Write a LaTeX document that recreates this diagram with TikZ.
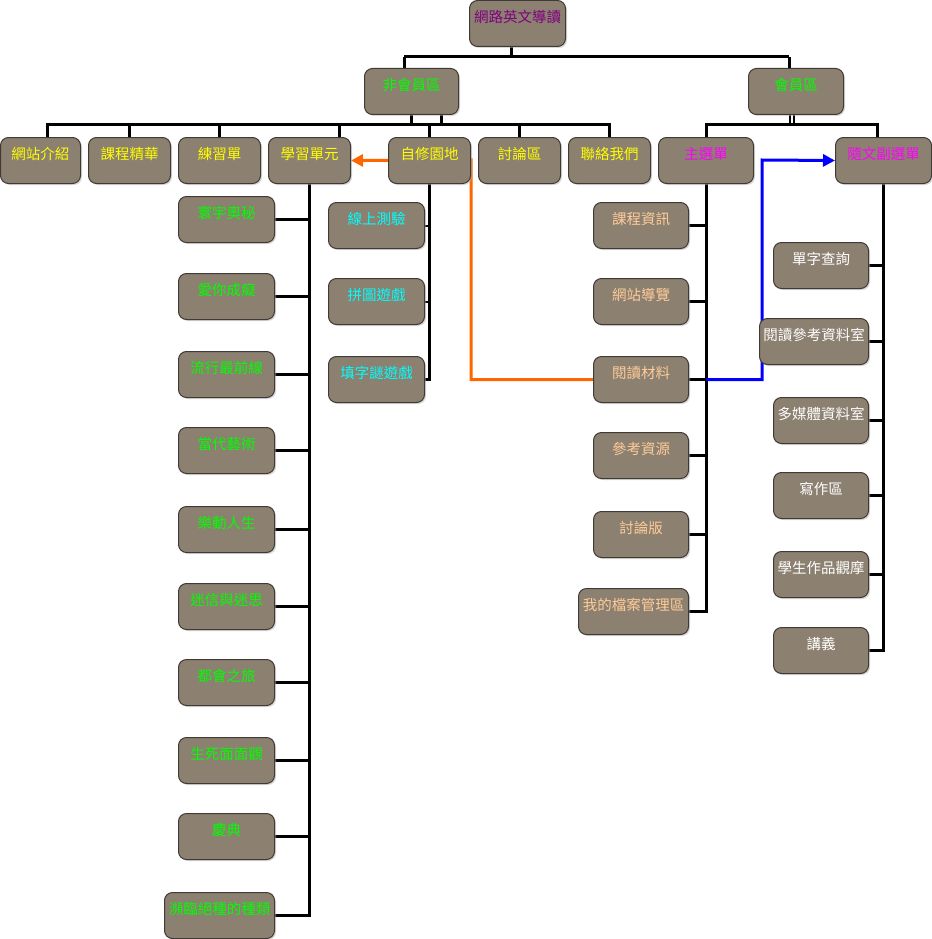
\documentclass[tikz,border=0pt]{standalone}
\usepackage{fontspec}
\setmainfont{Noto Sans CJK TC}
\usetikzlibrary{arrows.meta,backgrounds,shadows}
\definecolor{boxfill}{RGB}{140,128,112}
\definecolor{boxline}{RGB}{64,58,52}
\definecolor{tyellow}{RGB}{255,255,0}
\definecolor{tgreen}{RGB}{0,255,0}
\definecolor{tcyan}{RGB}{0,255,255}
\definecolor{tmagenta}{RGB}{255,0,255}
\definecolor{tpurple}{RGB}{128,0,128}
\definecolor{tpeach}{RGB}{255,204,153}
\definecolor{lorange}{RGB}{255,102,0}
\definecolor{lblue}{RGB}{0,0,255}
\tikzset{
  box/.style={draw=boxline, line width=1pt, fill=boxfill, rounded corners=8pt,
    anchor=north west, inner xsep=0pt, inner ysep=0pt, minimum width=95pt,
    text height=22pt, text depth=24pt, font=\fontsize{14.5pt}{17pt}\selectfont,
    drop shadow={shadow xshift=1.5pt, shadow yshift=-1.5pt, fill=black!30, opacity=0.5}},
  conn/.style={draw=black, line width=3pt},
  thinconn/.style={draw=black, line width=2pt},
  oarrow/.style={draw=lorange, line width=3pt, -{Triangle[length=12pt,width=12pt]}},
  barrow/.style={draw=lblue, line width=3pt, -{Triangle[length=12pt,width=12pt]}}
}
\begin{document}
\begin{tikzpicture}[x=1pt,y=-1pt]
\useasboundingbox (0,0) rectangle (931,939);
% top
\node[box, minimum width=96pt, text=tpurple] (root) at (469,0) {網路英文導讀};
\node[box, minimum width=94pt, text=tgreen] (nonmem) at (364,68) {非會員區};
\node[box, minimum width=95pt, text=tgreen] (mem) at (748,68) {會員區};
% second row
\node[box, minimum width=80pt, text=tyellow] (n1) at (0,137) {網站介紹};
\node[box, minimum width=82pt, text=tyellow] (n2) at (88,137) {課程精華};
\node[box, minimum width=82pt, text=tyellow] (n3) at (178,137) {練習單};
\node[box, minimum width=82pt, text=tyellow] (n4) at (268,137) {學習單元};
\node[box, minimum width=82pt, text=tyellow] (n5) at (388,137) {自修園地};
\node[box, minimum width=82pt, text=tyellow] (n6) at (478,137) {討論區};
\node[box, minimum width=82pt, text=tyellow] (n7) at (568,137) {聯絡我們};
\node[box, minimum width=95pt, text=tmagenta] (m1) at (658,137) {主選單};
\node[box, minimum width=96pt, text=tmagenta] (m2) at (835,137) {隨文副選單};
% 學習單元 children
\node[box, minimum width=96pt, text=tgreen] (s1) at (178,196) {寰宇奧秘};
\node[box, minimum width=96pt, text=tgreen] (s2) at (178,273) {愛你成癡};
\node[box, minimum width=96pt, text=tgreen] (s3) at (178,351) {流行最前線};
\node[box, minimum width=96pt, text=tgreen] (s4) at (178,427) {當代藝術};
\node[box, minimum width=96pt, text=tgreen] (s5) at (178,506) {樂動人生};
\node[box, minimum width=96pt, text=tgreen] (s6) at (178,583) {迷信與迷思};
\node[box, minimum width=96pt, text=tgreen] (s7) at (178,659) {都會之旅};
\node[box, minimum width=96pt, text=tgreen] (s8) at (178,737) {生死面面觀};
\node[box, minimum width=96pt, text=tgreen] (s9) at (178,813) {慶典};
\node[box, minimum width=110pt, text=tgreen] (s10) at (164,892) {瀕臨絕種的種類};
% 自修園地 children
\node[box, minimum width=96pt, text=tcyan] (z1) at (328,202) {線上測驗};
\node[box, minimum width=96pt, text=tcyan] (z2) at (328,278) {拼圖遊戲};
\node[box, minimum width=96pt, text=tcyan] (z3) at (328,356) {填字謎遊戲};
% 主選單 children
\node[box, minimum width=95pt, text=tpeach] (r1) at (593,202) {課程資訊};
\node[box, minimum width=95pt, text=tpeach] (r2) at (593,278) {網站導覽};
\node[box, minimum width=95pt, text=tpeach] (r3) at (593,356) {閱讀材料};
\node[box, minimum width=95pt, text=tpeach] (r4) at (593,432) {參考資源};
\node[box, minimum width=95pt, text=tpeach] (r5) at (593,511) {討論版};
\node[box, minimum width=110pt, text=tpeach] (r6) at (578,588) {我的檔案管理區};
% 隨文副選單 children
\node[box, minimum width=95pt, text=white] (v1) at (773,242) {單字查詢};
\node[box, minimum width=109pt, text=white] (v2) at (759,318) {閱讀參考資料室};
\node[box, minimum width=95pt, text=white] (v3) at (773,397) {多媒體資料室};
\node[box, minimum width=95pt, text=white] (v4) at (773,472) {寫作區};
\node[box, minimum width=95pt, text=white] (v5) at (773,551) {學生作品觀摩};
\node[box, minimum width=95pt, text=white] (v6) at (773,627) {講義};
% junction coordinates
\coordinate (rj) at (511,57);
\coordinate (rl) at (404,57);
\coordinate (rr) at (789,57);
\coordinate (b1) at (47,125);
\coordinate (b4) at (339,125);
\coordinate (nm2) at (441,114);
\coordinate (mb) at (877,125);
\coordinate (md1) at (790,114);
\coordinate (md2) at (794,114);
\coordinate (oc) at (471,160);
\coordinate (bc) at (762,160);
\begin{scope}[on background layer]
\draw[conn] (root.south -| rj) -- (rj);
\draw[conn] (rl) -- (rr);
\draw[conn] (rl) -- (nonmem.north -| rl);
\draw[conn] (rr) -- (mem.north -| rr);
\draw[conn] (nonmem.south) -- (nonmem.south |- b1);
\draw[conn] (nm2) -- (nm2 |- b1);
\draw[conn] (n1.north -| b1) -- (b1) -- (b1 -| n7.north) -- (n7.north);
\foreach \c in {n2,n3,n5,n6} \draw[conn] (\c.north) -- (\c.north |- b1);
\draw[conn] (n4.north -| b4) -- (b4);
\draw[thinconn] (md1) -- (md1 |- mb);
\draw[thinconn] (md2) -- (md2 |- mb);
\draw[conn] (m1.north) |- (mb) -- (mb |- m2.north);
% columns
\foreach \c in {s1,s2,s3,s4,s5,s6,s7,s8,s9} \draw[conn] (\c.east) -- (\c.east -| n4.south);
\draw[conn] (n4.south) |- (s10.east);
\foreach \c in {z1,z2} \draw[thinconn] (\c.east) -- (\c.east -| n5.south);
\draw[conn] (n5.south) |- (z3.east);
\foreach \c in {r1,r2,r3,r4,r5} \draw[conn] (\c.east) -- (\c.east -| m1.south);
\draw[conn] (m1.south) |- (r6.east);
\foreach \c in {v1,v2,v3,v4,v5} \draw[conn] (\c.east) -- (\c.east -| m2.south);
\draw[conn] (m2.south) |- (v6.east);
% cross links
\draw[oarrow] (r3.west) -| (oc) -- (n4.east);
\draw[barrow] (r3.east -| m1.south) -| (bc) -- (m2.west);
\end{scope}
\end{tikzpicture}
\end{document}
